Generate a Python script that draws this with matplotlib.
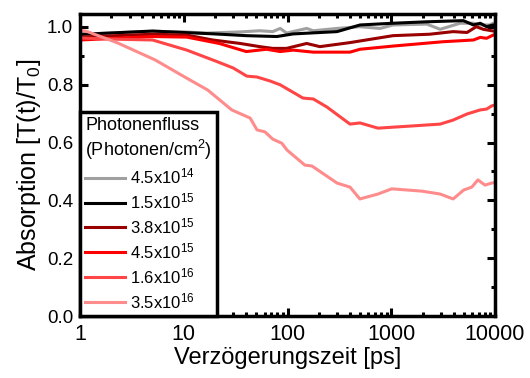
import matplotlib
matplotlib.use('Agg')
import matplotlib.pyplot as plt
from matplotlib.ticker import FixedLocator, FixedFormatter, LogLocator, MultipleLocator, NullFormatter

plt.rcParams['font.family'] = ['Liberation Sans', 'DejaVu Sans']
plt.rcParams['mathtext.default'] = 'regular'

# Photonenfluss-Reihen: Verzögerungszeit [ps] und Absorption
labels = [r'4.5x10$^{14}$', r'1.5x10$^{15}$', r'3.8x10$^{15}$',
          r'4.5x10$^{15}$', r'1.6x10$^{16}$', r'3.5x10$^{16}$']
colors = ['#A0A0A0', '#000000', '#990000', '#FF0000', '#FF4545', '#FF8C8C']

t_gray = [1, 5, 10, 16.7, 35, 54, 72, 85, 98, 153, 177, 300, 500, 780, 1040,
          2200, 2960, 4600, 6200, 7200, 8900, 9600, 10000]
a_gray = [0.975, 0.985, 0.983, 0.979, 0.983, 0.987, 0.984, 0.995, 0.979, 0.995,
          0.987, 0.995, 1.001, 0.995, 1.007, 1.01, 0.992, 1.013, 1.013, 1.007,
          1.007, 1.013, 1.005]

t_black = [1, 1.1, 5, 9.8, 20, 40, 79, 113, 300, 500, 1040, 2200, 4950, 6200,
           7200, 8300, 9600, 10000]
a_black = [0.975, 0.975, 0.986, 0.981, 0.976, 0.970, 0.967, 0.976, 0.984, 1.007,
           1.013, 1.018, 1.022, 1.007, 1.013, 1.001, 1.007, 1.0]

t_dred = [1, 5, 10.7, 19, 35, 54, 72, 98, 153, 205, 400, 1040, 2350, 3950, 5370,
          6600, 7700, 9300, 10000]
a_dred = [0.965, 0.975, 0.972, 0.955, 0.943, 0.932, 0.926, 0.926, 0.943, 0.932,
          0.946, 0.970, 0.975, 0.984, 0.981, 1.001, 0.992, 0.987, 0.985]

t_red = [1, 5, 10.7, 22, 40, 63, 85, 113, 177, 400, 500, 1040, 3150, 6200, 7200,
         8300, 9600, 10000]
a_red = [0.955, 0.967, 0.965, 0.943, 0.915, 0.923, 0.915, 0.92, 0.913, 0.913,
         0.923, 0.934, 0.949, 0.955, 0.964, 0.961, 0.972, 0.975]

t_red16 = [1, 2, 5, 10.7, 21, 30, 40.5, 50.7, 68, 85, 141, 177, 240, 400, 500,
           744, 1500, 2960, 3950, 5370, 7200, 8300, 9300, 10000]
a_red16 = [0.962, 0.958, 0.955, 0.92, 0.88, 0.858, 0.830, 0.827, 0.813, 0.80,
           0.754, 0.751, 0.723, 0.664, 0.668, 0.65, 0.657, 0.664, 0.678, 0.699,
           0.713, 0.716, 0.727, 0.73]

t_pink = [1, 1.2, 2.3, 5.3, 10.2, 17, 29, 43.6, 50.8, 60.7, 72, 88, 99, 147, 172,
          300, 400, 498, 744, 1010, 1980, 2960, 3950, 4990, 5970, 6840, 8000,
          9300, 10000]
a_pink = [0.99, 0.983, 0.945, 0.886, 0.827, 0.782, 0.713, 0.685, 0.644, 0.637,
          0.612, 0.598, 0.574, 0.522, 0.519, 0.46, 0.446, 0.405, 0.422, 0.44,
          0.432, 0.422, 0.405, 0.436, 0.446, 0.471, 0.453, 0.46, 0.462]

series = [(t_gray, a_gray), (t_black, a_black), (t_dred, a_dred),
          (t_red, a_red), (t_red16, a_red16), (t_pink, a_pink)]

xticks = [1, 10, 100, 1000, 10000]
xticklabels = ['1', '10', '100', '1000', '10000']

fig = plt.figure(figsize=(5.3, 3.78), dpi=100)
ax = fig.add_axes([0.151, 0.164, 0.783, 0.799])

for (t, a), c, lab in zip(series, colors, labels):
    ax.plot(t, a, color=c, lw=2.2, label=lab)

ax.set_xscale('log')
ax.set_xlim(1, 10000)
ax.set_ylim(0, 1.045)
ax.xaxis.set_major_locator(FixedLocator(xticks))
ax.xaxis.set_major_formatter(FixedFormatter(xticklabels))
ax.xaxis.set_minor_locator(LogLocator(base=10, subs=range(2, 10)))
ax.xaxis.set_minor_formatter(NullFormatter())
ax.yaxis.set_major_locator(MultipleLocator(0.2))
ax.yaxis.set_minor_locator(MultipleLocator(0.1))
ax.yaxis.set_major_formatter(matplotlib.ticker.FormatStrFormatter('%.1f'))

ax.tick_params(which='both', direction='in', top=True, right=True, width=2.2)
ax.tick_params(which='major', length=5.5)
ax.tick_params(which='minor', length=3)
ax.tick_params(axis='x', which='major', labelsize=15.5, pad=6)
ax.tick_params(axis='y', which='major', labelsize=13.5, pad=5)
for s in ax.spines.values():
    s.set_linewidth(2.5)

ax.set_xlabel('Verzögerungszeit [ps]', fontsize=17, labelpad=1)
ax.set_ylabel('Absorption [T(t)/T$_0$]', fontsize=18, labelpad=3)

leg = ax.legend(title='Photonenfluss\n(Photonen/cm$^2$)', loc='lower left',
                bbox_to_anchor=(0, 0), borderaxespad=0, fontsize=12,
                title_fontsize=13, frameon=True, fancybox=False,
                framealpha=1, edgecolor='black', handlelength=2.4,
                handletextpad=0.3, labelspacing=0.3, borderpad=0.3,
                alignment='left')
leg.get_frame().set_linewidth(2.5)
leg.set_zorder(5)

fig.savefig('out.png', dpi=100)
